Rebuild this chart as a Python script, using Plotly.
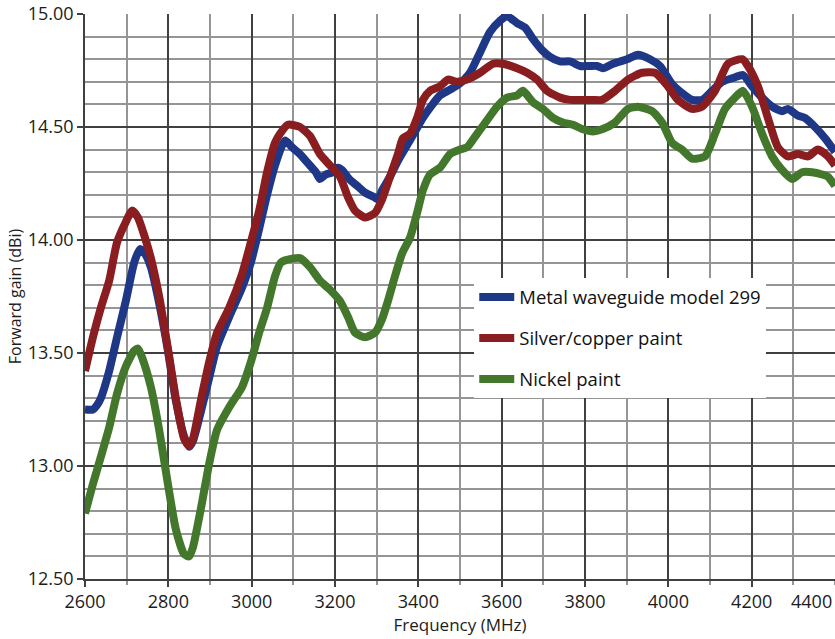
import plotly.graph_objects as go

# Forward gain of the three antenna constructions vs. frequency
freq_metal = [2600, 2619, 2629, 2638, 2658, 2677, 2698, 2718, 2732, 2744, 2758, 2778, 2799, 2818, 2838, 2850,
              2859, 2878, 2898, 2917, 2946, 2977, 2998, 3018, 3037, 3056, 3080, 3097, 3116, 3135, 3154, 3164,
              3178, 3195, 3207, 3217, 3234, 3253, 3272, 3294, 3303, 3313, 3332, 3351, 3370, 3392, 3411, 3430,
              3452, 3471, 3490, 3510, 3524, 3548, 3572, 3596, 3613, 3637, 3656, 3675, 3697, 3716, 3740, 3764,
              3788, 3812, 3829, 3843, 3867, 3901, 3927, 3956, 3980, 4009, 4033, 4057, 4081, 4105, 4129, 4160,
              4179, 4201, 4225, 4249, 4273, 4287, 4311, 4328, 4352, 4376, 4400]
gain_metal = [13.25, 13.25, 13.27, 13.30, 13.42, 13.57, 13.73, 13.90, 13.96, 13.94, 13.88, 13.72, 13.51, 13.29,
              13.13, 13.085, 13.11, 13.24, 13.39, 13.53, 13.66, 13.79, 13.90, 14.05, 14.20, 14.33, 14.44, 14.41,
              14.38, 14.34, 14.30, 14.27, 14.29, 14.30, 14.32, 14.31, 14.27, 14.24, 14.21, 14.19, 14.18, 14.22,
              14.28, 14.35, 14.41, 14.48, 14.54, 14.59, 14.64, 14.66, 14.68, 14.71, 14.74, 14.83, 14.92, 14.97,
              14.99, 14.96, 14.94, 14.89, 14.84, 14.81, 14.79, 14.79, 14.77, 14.77, 14.77, 14.76, 14.78, 14.80,
              14.82, 14.80, 14.77, 14.69, 14.65, 14.62, 14.62, 14.66, 14.70, 14.72, 14.73, 14.68, 14.63, 14.59,
              14.57, 14.58, 14.55, 14.54, 14.50, 14.45, 14.39]

freq_silver = [2600, 2619, 2638, 2658, 2677, 2698, 2713, 2727, 2744, 2758, 2778, 2799, 2818, 2838, 2850, 2859,
               2878, 2898, 2917, 2946, 2977, 2998, 3018, 3037, 3056, 3068, 3087, 3116, 3140, 3164, 3188, 3212,
               3231, 3248, 3272, 3296, 3313, 3332, 3351, 3363, 3380, 3397, 3411, 3428, 3452, 3471, 3493, 3517,
               3548, 3579, 3603, 3637, 3661, 3685, 3709, 3740, 3764, 3795, 3819, 3841, 3872, 3903, 3937, 3968,
               3999, 4023, 4057, 4081, 4112, 4143, 4177, 4191, 4215, 4239, 4263, 4287, 4311, 4335, 4359, 4383,
               4400]
gain_silver = [13.42, 13.57, 13.70, 13.82, 13.99, 14.08, 14.13, 14.10, 14.01, 13.92, 13.75, 13.52, 13.30, 13.12,
               13.09, 13.12, 13.29, 13.46, 13.59, 13.70, 13.85, 13.99, 14.13, 14.30, 14.43, 14.47, 14.51, 14.50,
               14.46, 14.38, 14.33, 14.28, 14.19, 14.13, 14.10, 14.12, 14.18, 14.28, 14.38, 14.45, 14.47, 14.54,
               14.62, 14.66, 14.68, 14.71, 14.70, 14.71, 14.74, 14.78, 14.78, 14.76, 14.74, 14.71, 14.66, 14.63,
               14.62, 14.62, 14.62, 14.62, 14.66, 14.71, 14.74, 14.74, 14.68, 14.62, 14.58, 14.59, 14.66, 14.78,
               14.80, 14.77, 14.68, 14.54, 14.41, 14.37, 14.38, 14.37, 14.40, 14.37, 14.33]

freq_nickel = [2600, 2619, 2638, 2658, 2677, 2698, 2718, 2727, 2737, 2758, 2778, 2799, 2818, 2838, 2850, 2859,
               2878, 2898, 2917, 2946, 2977, 2998, 3018, 3037, 3056, 3070, 3080, 3116, 3140, 3164, 3188, 3212,
               3231, 3248, 3272, 3296, 3313, 3327, 3344, 3361, 3380, 3397, 3411, 3428, 3452, 3476, 3500, 3517,
               3541, 3565, 3589, 3613, 3637, 3651, 3675, 3699, 3723, 3747, 3771, 3795, 3819, 3841, 3872, 3903,
               3927, 3961, 3985, 4009, 4033, 4057, 4088, 4112, 4136, 4160, 4179, 4201, 4225, 4249, 4273, 4297,
               4321, 4345, 4369, 4383, 4400]
gain_nickel = [12.79, 12.92, 13.04, 13.17, 13.32, 13.44, 13.51, 13.52, 13.48, 13.35, 13.16, 12.92, 12.72, 12.61,
               12.60, 12.64, 12.81, 13.01, 13.16, 13.26, 13.35, 13.46, 13.59, 13.70, 13.84, 13.90, 13.91, 13.92,
               13.88, 13.82, 13.78, 13.73, 13.66, 13.59, 13.57, 13.59, 13.65, 13.73, 13.84, 13.94, 14.01, 14.12,
               14.22, 14.29, 14.32, 14.38, 14.40, 14.41, 14.47, 14.53, 14.59, 14.63, 14.64, 14.66, 14.61, 14.58,
               14.54, 14.52, 14.51, 14.49, 14.48, 14.49, 14.52, 14.58, 14.59, 14.57, 14.52, 14.43, 14.40, 14.36,
               14.37, 14.47, 14.58, 14.63, 14.66, 14.59, 14.47, 14.37, 14.31, 14.27, 14.30, 14.30, 14.29, 14.28,
               14.24]

x_ticks = [2600, 2800, 3000, 3200, 3400, 3600, 3800, 4000, 4200, 4400]
x_tick_labels = ["2600", "2800", "3000", "3200", "3400", "3600", "3800", "4000", "4200", "4400"]
y_ticks = [12.5, 13.0, 13.5, 14.0, 14.5, 15.0]

FONT = "Open Sans"
TEXT = "#1c1c1c"
series = [
    ("Metal waveguide model 299", freq_metal, gain_metal, "#1f3787"),
    ("Silver/copper paint", freq_silver, gain_silver, "#8a1d1f"),
    ("Nickel paint", freq_nickel, gain_nickel, "#43772c"),
]

fig = go.Figure()
for i, (name, xs, ys, color) in enumerate(series):
    fig.add_trace(go.Scatter(
        x=xs, y=ys, name=name, mode="lines", legendgroup=f"g{i}",
        line=dict(color=color, width=8, shape="spline", smoothing=0.6),
    ))

# The last tick sits on the right edge of the figure, so its label is
# right-aligned to the tick instead of centred on it.
fig.add_annotation(
    x=x_ticks[-1], xref="x", y=0, yref="paper",
    text=x_tick_labels[-1], showarrow=False,
    xanchor="right", yanchor="middle", xshift=-1, yshift=-22,
    font=dict(family=FONT, size=18, color=TEXT),
)

major = "#404040"
minor = "#959595"
fig.update_layout(
    width=835, height=639,
    margin=dict(l=85, r=0, t=14, b=60),
    paper_bgcolor="white", plot_bgcolor="white",
    font=dict(family=FONT, color=TEXT),
    showlegend=True,
    legend=dict(
        x=0.519, y=0.532, xanchor="left", yanchor="top",
        bgcolor="white", borderwidth=0,
        font=dict(family=FONT, size=18.5, color="#111111"),
        tracegroupgap=14, itemwidth=35,
    ),
    xaxis=dict(
        range=[2600, 4400], tickvals=x_ticks[:-1], ticktext=x_tick_labels[:-1],
        showgrid=True, gridcolor=major, gridwidth=1.5,
        minor=dict(dtick=100, showgrid=True, gridcolor=minor, gridwidth=1.5,
                   ticks="outside", ticklen=4, tickcolor=minor),
        ticks="outside", ticklen=6, tickcolor=major, tickwidth=1.5,
        showline=True, linecolor=major, linewidth=1.5,
        tickfont=dict(family=FONT, size=18, color=TEXT),
        title=dict(text="Frequency (MHz)", font=dict(family=FONT, size=17, color=TEXT), standoff=6),
        zeroline=False, automargin=False,
    ),
    yaxis=dict(
        range=[12.5, 15.0], tickvals=y_ticks, tickformat=".2f",
        showgrid=True, gridcolor=major, gridwidth=1.5,
        minor=dict(dtick=0.1, showgrid=True, gridcolor=minor, gridwidth=1.5),
        ticks="outside", ticklen=6, tickcolor=major, tickwidth=1.5,
        showline=True, linecolor=major, linewidth=1.5,
        tickfont=dict(family=FONT, size=18, color=TEXT),
        title=dict(text="Forward gain (dBi)", font=dict(family=FONT, size=16, color=TEXT), standoff=2),
        zeroline=False, automargin=False,
    ),
)

fig.write_html("out.html")
